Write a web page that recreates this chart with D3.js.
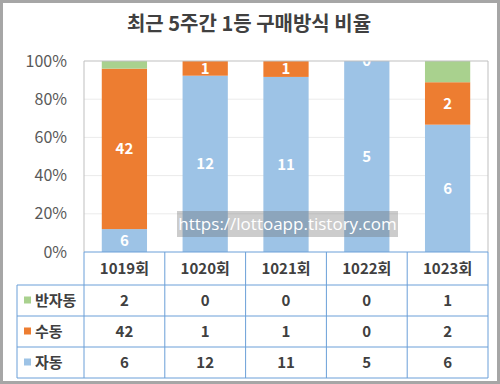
<!DOCTYPE html>
<html>
<head>
<meta charset="utf-8">
<script src="https://cdn.jsdelivr.net/npm/d3@7/dist/d3.min.js"></script>
<style>
  body { margin: 0; background: #fff; }
  svg { display: block; }
  text { font-family: "Noto Sans CJK KR", "Noto Sans", sans-serif; }
</style>
</head>
<body>
<div id="chart"></div>
<script>
const rounds = ["1019회", "1020회", "1021회", "1022회", "1023회"];
const seriesNames = ["자동", "수동", "반자동"];
const auto = [6, 12, 11, 5, 6];
const manual = [42, 1, 1, 0, 2];
const semi = [2, 0, 0, 0, 1];
const yTicks = [0, 0.2, 0.4, 0.6, 0.8, 1];
const colors = { "자동": "#9dc3e6", "수동": "#ed7d31", "반자동": "#a9d18e" };

const W = 500, H = 384;
const plot = { left: 84, right: 488, top: 61, bottom: 252 };

const svg = d3.select("#chart").append("svg")
  .attr("width", W).attr("height", H);

// outer frame
svg.append("rect")
  .attr("x", 1.5).attr("y", 1.5).attr("width", W - 3).attr("height", H - 3)
  .attr("fill", "#fff").attr("stroke", "#a6a6a6").attr("stroke-width", 3);

svg.append("text")
  .attr("x", 249).attr("y", 31)
  .attr("text-anchor", "middle")
  .attr("font-size", 20).attr("font-weight", "bold")
  .attr("fill", "#404040")
  .text("최근 5주간 1등 구매방식 비율");

const x = d3.scaleBand().domain(rounds).range([plot.left, plot.right]).paddingInner(0);
const y = d3.scaleLinear().domain([0, 1]).range([plot.bottom, plot.top]);

// gridlines
svg.append("g").selectAll("line").data(yTicks.slice(1, 5)).join("line")
  .attr("x1", plot.left).attr("x2", plot.right)
  .attr("y1", d => y(d)).attr("y2", d => y(d))
  .attr("stroke", "#ebebeb").attr("stroke-width", 1);

const yAxis = svg.append("g")
  .attr("transform", `translate(${plot.left},0)`)
  .call(d3.axisLeft(y).tickValues(yTicks).tickFormat(d3.format(".0%")).tickSize(0).tickPadding(17));
yAxis.select(".domain").remove();
yAxis.selectAll("text")
  .attr("font-size", 16).attr("fill", "#595959")
  .style("font-family", '"Noto Sans CJK KR", sans-serif');

// stacked data
const rows = rounds.map((r, i) => ({ round: r, "자동": auto[i], "수동": manual[i], "반자동": semi[i] }));
const stack = d3.stack().keys(seriesNames).offset(d3.stackOffsetExpand);
const layers = stack(rows);

svg.append("clipPath").attr("id", "plotClip").append("rect")
  .attr("x", plot.left).attr("y", plot.top)
  .attr("width", plot.right - plot.left).attr("height", plot.bottom - plot.top);

const barW = x.bandwidth() * 0.56;
const gBars = svg.append("g");
layers.forEach(layer => {
  gBars.selectAll(null).data(layer).join("rect")
    .attr("x", d => x(d.data.round) + (x.bandwidth() - barW) / 2)
    .attr("y", d => y(d[1]))
    .attr("width", barW)
    .attr("height", d => y(d[0]) - y(d[1]))
    .attr("fill", colors[layer.key]);
});

// labels for 자동 and 수동
const gLabels = svg.append("g").attr("clip-path", "url(#plotClip)");
layers.filter(l => l.key !== "반자동").forEach(layer => {
  gLabels.selectAll(null).data(layer).join("text")
    .attr("x", d => x(d.data.round) + x.bandwidth() / 2)
    .attr("y", d => (y(d[0]) + y(d[1])) / 2)
    .attr("dy", "0.36em")
    .attr("text-anchor", "middle")
    .attr("font-size", 15).attr("font-weight", "bold")
    .attr("fill", "#fff")
    .text(d => d.data[layer.key]);
});

// plot border
svg.append("path")
  .attr("d", `M${plot.left},${plot.bottom}V${plot.top}H${plot.right}V${plot.bottom}`)
  .attr("fill", "none").attr("stroke", "#bfbfbf").attr("stroke-width", 1);

// data table
const tbl = { left: 17, rowTop: 285, rowH: 31, headTop: 252 };
const tableRows = [
  { name: "반자동", vals: semi },
  { name: "수동", vals: manual },
  { name: "자동", vals: auto }
];
const tBottom = tbl.rowTop + tbl.rowH * tableRows.length;
const gT = svg.append("g");
const blue = "#6a9fd8";

// horizontal lines
gT.append("line").attr("x1", plot.left).attr("x2", plot.right)
  .attr("y1", tbl.headTop).attr("y2", tbl.headTop).attr("stroke", blue);
d3.range(tableRows.length + 1).forEach(i => {
  gT.append("line").attr("x1", tbl.left).attr("x2", plot.right)
    .attr("y1", tbl.rowTop + i * tbl.rowH).attr("y2", tbl.rowTop + i * tbl.rowH)
    .attr("stroke", blue);
});
// vertical lines
gT.append("line").attr("x1", tbl.left).attr("x2", tbl.left)
  .attr("y1", tbl.rowTop).attr("y2", tBottom).attr("stroke", blue);
rounds.concat([null]).forEach((r, i) => {
  const xx = r ? x(r) : plot.right;
  gT.append("line").attr("x1", xx).attr("x2", xx)
    .attr("y1", tbl.headTop).attr("y2", tBottom).attr("stroke", blue);
});

gT.selectAll(".head").data(rounds).join("text")
  .attr("x", d => x(d) + x.bandwidth() / 2)
  .attr("y", (tbl.headTop + tbl.rowTop) / 2)
  .attr("dy", "0.36em").attr("text-anchor", "middle")
  .attr("font-size", 15).attr("font-weight", "bold").attr("fill", "#404040")
  .text(d => d);

tableRows.forEach((row, ri) => {
  const cy = tbl.rowTop + ri * tbl.rowH + tbl.rowH / 2;
  gT.append("rect").attr("x", 24).attr("y", cy - 4).attr("width", 7).attr("height", 7)
    .attr("fill", colors[row.name]);
  gT.append("text").attr("x", 35).attr("y", cy).attr("dy", "0.36em")
    .attr("font-size", 15).attr("font-weight", "bold").attr("fill", "#404040")
    .text(row.name);
  gT.selectAll(null).data(row.vals).join("text")
    .attr("x", (d, i) => x(rounds[i]) + x.bandwidth() / 2)
    .attr("y", cy).attr("dy", "0.36em").attr("text-anchor", "middle")
    .attr("font-size", 15).attr("font-weight", "bold").attr("fill", "#404040")
    .text(d => d);
});

// watermark
const wm = svg.append("g");
wm.append("rect").attr("x", 177).attr("y", 211).attr("width", 221).attr("height", 26)
  .attr("fill", "rgb(110,110,110)").attr("fill-opacity", 0.35);
wm.append("text").attr("x", 287.5).attr("y", 224).attr("dy", "0.36em")
  .attr("text-anchor", "middle").attr("font-size", 17).attr("fill", "#fff")
  .style("font-family", '"Open Sans", sans-serif')
  .text("https://lottoapp.tistory.com");
</script>
</body>
</html>
